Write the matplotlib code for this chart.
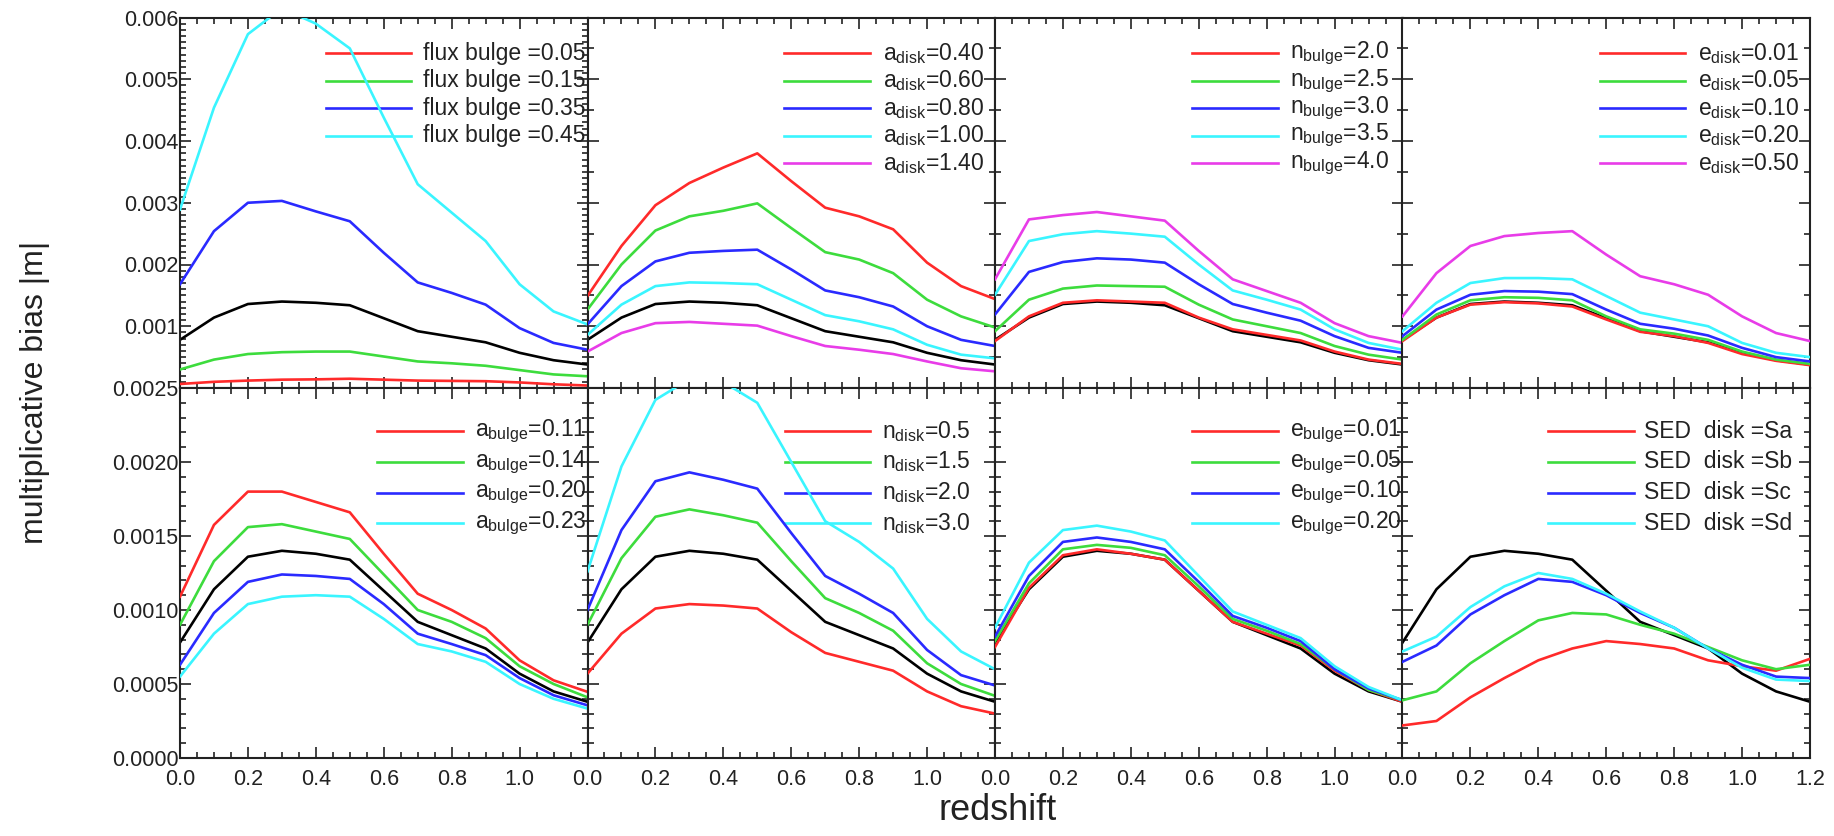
import matplotlib
matplotlib.use("Agg")
import matplotlib.pyplot as plt
from matplotlib.ticker import MultipleLocator, FormatStrFormatter

plt.rcParams['font.family'] = ['Liberation Sans', 'DejaVu Sans']
plt.rcParams['mathtext.fontset'] = 'custom'
plt.rcParams['mathtext.rm'] = 'Liberation Sans'
plt.rcParams['mathtext.it'] = 'Liberation Sans'

z = [0.0, 0.1, 0.2, 0.3, 0.4, 0.5, 0.6, 0.7, 0.8, 0.9, 1.0, 1.1, 1.2]

fiducial = [0.00078, 0.00114, 0.00136, 0.00140, 0.00138, 0.00134, 0.00113,
            0.00092, 0.00083, 0.00074, 0.00057, 0.00045, 0.00038]

# --- top row ---
flux_bulge_labels = ["flux bulge =0.05", "flux bulge =0.15", "flux bulge =0.35", "flux bulge =0.45"]
flux_bulge = [
    [0.000065, 0.0001, 0.00012, 0.000135, 0.00014, 0.00015, 0.000135, 0.00012, 0.000115, 0.00011, 0.00009, 0.00006, 0.00004],
    [0.0003, 0.00046, 0.00055, 0.00058, 0.00059, 0.00059, 0.00051, 0.00043, 0.0004, 0.00036, 0.00029, 0.00022, 0.00019],
    [0.00168, 0.00254, 0.0030, 0.00303, 0.00286, 0.0027, 0.00219, 0.00171, 0.00154, 0.00135, 0.00097, 0.00073, 0.00062],
    [0.00289, 0.00454, 0.00573, 0.00615, 0.0059, 0.0055, 0.00438, 0.0033, 0.00284, 0.00238, 0.00168, 0.00124, 0.00103],
]

a_disk_labels = [r"a$_{\rm disk}$=0.40", r"a$_{\rm disk}$=0.60", r"a$_{\rm disk}$=0.80",
                 r"a$_{\rm disk}$=1.00", r"a$_{\rm disk}$=1.40"]
a_disk = [
    [0.00149, 0.0023, 0.00296, 0.00332, 0.00357, 0.0038, 0.00335, 0.00292, 0.00278, 0.00257, 0.00203, 0.00165, 0.00144],
    [0.00127, 0.0020, 0.00255, 0.00278, 0.00287, 0.00299, 0.00259, 0.0022, 0.00208, 0.00186, 0.00143, 0.00116, 0.00098],
    [0.00103, 0.00165, 0.00205, 0.00219, 0.00222, 0.00224, 0.00192, 0.00158, 0.00147, 0.00132, 0.0010, 0.00078, 0.00068],
    [0.00086, 0.00135, 0.00165, 0.00171, 0.0017, 0.00168, 0.00143, 0.00118, 0.00108, 0.00095, 0.0007, 0.00054, 0.00048],
    [0.00059, 0.00089, 0.00105, 0.00107, 0.00104, 0.00101, 0.00084, 0.00068, 0.00062, 0.00055, 0.00043, 0.00032, 0.00027],
]

n_bulge_labels = [r"n$_{\rm bulge}$=2.0", r"n$_{\rm bulge}$=2.5", r"n$_{\rm bulge}$=3.0",
                  r"n$_{\rm bulge}$=3.5", r"n$_{\rm bulge}$=4.0"]
n_bulge = [
    [0.00076, 0.00116, 0.00138, 0.00142, 0.0014, 0.00138, 0.00114, 0.00095, 0.00086, 0.00077, 0.00059, 0.00046, 0.00039],
    [0.00092, 0.00143, 0.00161, 0.00166, 0.00165, 0.00164, 0.00135, 0.00111, 0.0010, 0.00089, 0.00068, 0.00054, 0.00046],
    [0.00119, 0.00188, 0.00204, 0.0021, 0.00208, 0.00203, 0.00168, 0.00136, 0.00122, 0.00109, 0.00084, 0.00065, 0.00057],
    [0.00151, 0.00238, 0.00249, 0.00254, 0.0025, 0.00245, 0.0020, 0.00158, 0.00143, 0.00127, 0.00095, 0.00073, 0.00062],
    [0.00176, 0.00273, 0.0028, 0.00285, 0.00278, 0.00271, 0.00222, 0.00176, 0.00157, 0.00138, 0.00105, 0.00084, 0.00073],
]

e_disk_labels = [r"e$_{\rm disk}$=0.01", r"e$_{\rm disk}$=0.05", r"e$_{\rm disk}$=0.10",
                 r"e$_{\rm disk}$=0.20", r"e$_{\rm disk}$=0.50"]
e_disk = [
    [0.00076, 0.00114, 0.00135, 0.00139, 0.00137, 0.00132, 0.00111, 0.00091, 0.00084, 0.00073, 0.00055, 0.00044, 0.00037],
    [0.00078, 0.00119, 0.00142, 0.00147, 0.00146, 0.00142, 0.00116, 0.00095, 0.00088, 0.00078, 0.00059, 0.00046, 0.00039],
    [0.00084, 0.00127, 0.00151, 0.00157, 0.00156, 0.00152, 0.00127, 0.00104, 0.00096, 0.00085, 0.00065, 0.0005, 0.00043],
    [0.00092, 0.00138, 0.0017, 0.00178, 0.00178, 0.00176, 0.00149, 0.00122, 0.00111, 0.0010, 0.00073, 0.00057, 0.0005],
    [0.00116, 0.00186, 0.0023, 0.00246, 0.00251, 0.00254, 0.00216, 0.00181, 0.00168, 0.00151, 0.00116, 0.00089, 0.00076],
]

# --- bottom row ---
a_bulge_labels = [r"a$_{\rm bulge}$=0.11", r"a$_{\rm bulge}$=0.14", r"a$_{\rm bulge}$=0.20", r"a$_{\rm bulge}$=0.23"]
a_bulge = [
    [0.00109, 0.001575, 0.0018, 0.0018, 0.00173, 0.00166, 0.00138, 0.00111, 0.0010, 0.000875, 0.00066, 0.000525, 0.000447],
    [0.0009, 0.00133, 0.00156, 0.00158, 0.00153, 0.00148, 0.00124, 0.0010, 0.00092, 0.00081, 0.00062, 0.0005, 0.00041],
    [0.00063, 0.00098, 0.00119, 0.00124, 0.00123, 0.00121, 0.00104, 0.00084, 0.00077, 0.000695, 0.00054, 0.000424, 0.000356],
    [0.00055, 0.00084, 0.00104, 0.00109, 0.0011, 0.00109, 0.00094, 0.00077, 0.00072, 0.00065, 0.0005, 0.0004, 0.000334],
]

n_disk_labels = [r"n$_{\rm disk}$=0.5", r"n$_{\rm disk}$=1.5", r"n$_{\rm disk}$=2.0", r"n$_{\rm disk}$=3.0"]
n_disk = [
    [0.00057, 0.00084, 0.00101, 0.00104, 0.00103, 0.00101, 0.00085, 0.00071, 0.00065, 0.00059, 0.00045, 0.00035, 0.0003],
    [0.0009, 0.00135, 0.00163, 0.00168, 0.00164, 0.00159, 0.00133, 0.00108, 0.00098, 0.00086, 0.00064, 0.0005, 0.00042],
    [0.0010, 0.00154, 0.00187, 0.00193, 0.00188, 0.00182, 0.00152, 0.00123, 0.00111, 0.00098, 0.00073, 0.00056, 0.00049],
    [0.00126, 0.00197, 0.00242, 0.00256, 0.00254, 0.0024, 0.0020, 0.0016, 0.00146, 0.00128, 0.00094, 0.00072, 0.0006],
]

e_bulge_labels = [r"e$_{\rm bulge}$=0.01", r"e$_{\rm bulge}$=0.05", r"e$_{\rm bulge}$=0.10", r"e$_{\rm bulge}$=0.20"]
e_bulge = [
    [0.00075, 0.00115, 0.00137, 0.00141, 0.00138, 0.00134, 0.00113, 0.00092, 0.00084, 0.00076, 0.00059, 0.00046, 0.00038],
    [0.00079, 0.00118, 0.00141, 0.00144, 0.00142, 0.00137, 0.00116, 0.00094, 0.00086, 0.00077, 0.0006, 0.00046, 0.00039],
    [0.00082, 0.00123, 0.00146, 0.00149, 0.00146, 0.00141, 0.00119, 0.00096, 0.00088, 0.00079, 0.0006, 0.00047, 0.00039],
    [0.00088, 0.00132, 0.00154, 0.00157, 0.00153, 0.00147, 0.00123, 0.00099, 0.0009, 0.00081, 0.00062, 0.00048, 0.00039],
]

sed_labels = ["SED  disk =Sa", "SED  disk =Sb", "SED  disk =Sc", "SED  disk =Sd"]
sed_disk = [
    [0.00022, 0.00025, 0.00041, 0.00054, 0.00066, 0.00074, 0.00079, 0.00077, 0.00074, 0.00066, 0.00062, 0.00059, 0.00067],
    [0.00039, 0.00045, 0.00064, 0.00079, 0.00093, 0.00098, 0.00097, 0.0009, 0.00084, 0.00075, 0.00066, 0.0006, 0.00063],
    [0.00065, 0.00076, 0.00097, 0.0011, 0.00121, 0.00119, 0.0011, 0.00098, 0.00088, 0.00074, 0.00063, 0.00055, 0.00054],
    [0.00072, 0.00082, 0.00102, 0.00116, 0.00125, 0.00121, 0.00111, 0.00099, 0.00088, 0.00074, 0.00061, 0.00053, 0.00052],
]

colors = ['#ff2a2a', '#3ddc3d', '#2a2aff', '#3af5ff', '#e83ce8']

panels = [
    (flux_bulge, flux_bulge_labels, 0, 0, 0.358, 0.597, 0.903),
    (a_disk, a_disk_labels, 0, 1, 0.483, 0.724, 0.903),
    (n_bulge, n_bulge_labels, 0, 2, 0.484, 0.725, 0.903),
    (e_disk, e_disk_labels, 0, 3, 0.484, 0.725, 0.903),
    (a_bulge, a_bulge_labels, 1, 0, 0.484, 0.723, 0.883),
    (n_disk, n_disk_labels, 1, 1, 0.484, 0.723, 0.883),
    (e_bulge, e_bulge_labels, 1, 2, 0.484, 0.723, 0.883),
    (sed_disk, sed_labels, 1, 3, 0.357, 0.593, 0.883),
]

fig = plt.figure(figsize=(18.34, 8.36), dpi=100)
left = 180 / 1834
pw = 407.5 / 1834
top = 1 - 17.5 / 836
mid = 1 - 388 / 836
bot = 1 - 758 / 836

tick_fs = 15.5
leg_fs = 16.5
lw = 1.9

for data, labels, row, col, seg_x0, txt_x, y0 in panels:
    if row == 0:
        ax = fig.add_axes([left + col * pw, mid, pw, top - mid])
        ax.set_ylim(0, 0.006)
    else:
        ax = fig.add_axes([left + col * pw, bot, pw, mid - bot])
        ax.set_ylim(0, 0.0025)
    ax.set_xlim(0, 1.2)
    ax.plot(z, fiducial, color='black', lw=lw, zorder=2)
    for i, vals in enumerate(data):
        ax.plot(z, vals, color=colors[i], lw=lw, zorder=3)
    dy = 0.074 if row == 0 else 0.083
    for i, lab in enumerate(labels):
        yy = y0 - i * dy
        ax.plot([seg_x0, seg_x0 + 0.21], [yy, yy], transform=ax.transAxes,
                color=colors[i], lw=lw, clip_on=False)
        ax.text(txt_x, yy, lab, transform=ax.transAxes, fontsize=leg_fs,
                va='center', ha='left', color='#222222', clip_on=False)

    ax.tick_params(which='both', direction='in', top=True, right=True,
                   labelsize=tick_fs, colors='#222222', width=1.2)
    ax.tick_params(which='major', length=8)
    ax.tick_params(which='minor', length=4)
    ax.tick_params(axis='x', which='major', pad=8)
    ax.tick_params(axis='y', which='major', pad=1)
    ax.xaxis.set_minor_locator(MultipleLocator(0.05))
    shown = [0.0, 0.2, 0.4, 0.6, 0.8, 1.0, 1.2] if col == 3 else [0.0, 0.2, 0.4, 0.6, 0.8, 1.0]
    allx = [0.0, 0.2, 0.4, 0.6, 0.8, 1.0, 1.2]
    ax.set_xticks(allx)
    ax.set_xticklabels(["%.1f" % t if t in shown else "" for t in allx])
    if row == 0:
        ax.yaxis.set_major_locator(MultipleLocator(0.001))
        ax.yaxis.set_minor_locator(MultipleLocator(0.0001 if col == 0 else 0.0005))
        if col == 0:
            yt = [0.001, 0.002, 0.003, 0.004, 0.005, 0.006]
            ax.set_yticks(yt)
            ax.set_yticklabels(["%.3f" % t for t in yt])
        else:
            ax.set_yticklabels([])
        ax.tick_params(axis='x', labelbottom=False)
    else:
        ax.yaxis.set_major_locator(MultipleLocator(0.0005))
        ax.yaxis.set_minor_locator(MultipleLocator(0.0001))
        if col == 0:
            ax.yaxis.set_major_formatter(FormatStrFormatter('%.4f'))
        else:
            ax.set_yticklabels([])
    for sp in ax.spines.values():
        sp.set_linewidth(1.5)
        sp.set_color('#222222')

fig.text(0.5438, 1 - 810 / 836, "redshift", fontsize=26, ha='center', va='center', color='#222222')
fig.text(0.019, 0.531, "multiplicative bias |m|", fontsize=23, rotation=90,
         ha='center', va='center', color='#222222')

fig.savefig("out.png", dpi=100)
